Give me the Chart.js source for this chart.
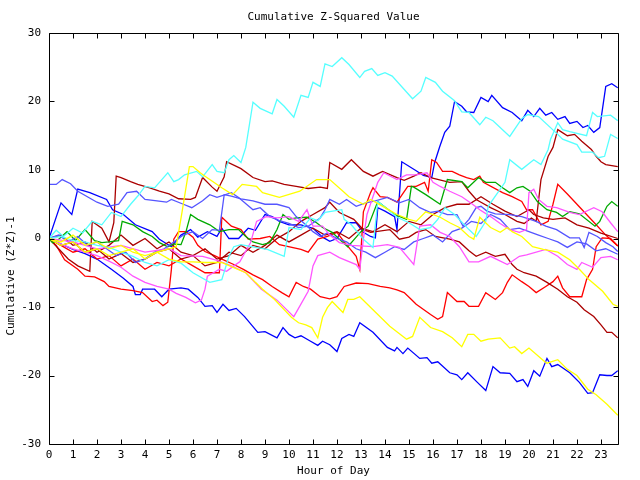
<!DOCTYPE html>
<html><head><meta charset="utf-8">
<script src="https://cdn.jsdelivr.net/npm/chart.js@4/dist/chart.umd.min.js"></script>
<style>html,body{margin:0;padding:0;background:#fff}canvas{display:block}</style>
</head><body>
<canvas id="c" width="640" height="480"></canvas>
<script>
// ---- data: [hour, cumulative value] vertices for each series ----
const blueTop = [[0,0],[0.5,5.2],[0.95,3.5],[1.2,7.2],[1.7,6.7],[2.4,5.7],[2.65,4.2],[3.1,3.5],[3.6,2],[4.3,1],[4.6,-0.1],[5.1,-1.2],[5.5,0.5],[5.9,1.3],[6.2,0.2],[6.6,1],[7.0,0.3],[7.2,1.5],[7.5,0],[7.9,0],[8.3,1.5],[8.6,1.2],[9.0,3.5],[9.3,3.2],[9.6,2.5],[10.0,2],[10.5,2],[11.0,1.5],[11.4,0.2],[11.7,-0.4],[12.0,0],[12.4,2.3],[12.8,2.3],[13.1,0.9],[13.4,0.3],[13.6,0.1],[13.7,4.5],[14.0,4],[14.4,3.2],[14.5,1.3],[14.7,11.2],[15.3,9.9],[15.6,9.2],[15.95,8.9],[16.07,11.1],[16.28,13.4],[16.49,15.5],[16.7,16.4],[16.9,20],[17.2,19.3],[17.4,18.5],[17.7,18.4],[18.0,20.6],[18.3,20],[18.45,20.9],[18.9,19.1],[19.3,18.4],[19.7,17.2],[19.95,18.7],[20.2,17.8],[20.45,19],[20.7,18],[20.95,18.4],[21.2,17.4],[21.5,17.8],[21.7,16.8],[22.0,17.1],[22.25,16.2],[22.45,16.5],[22.7,15.5],[22.95,16.2],[23.2,22.2],[23.45,22.6],[23.7,22]];
const blueLow = [[0,0],[0.5,-0.8],[1,-1.6],[1.5,-2.2],[2,-3],[2.6,-4.5],[3.1,-5.8],[3.5,-7],[3.6,-8.2],[3.8,-8.2],[3.9,-7.4],[4.4,-7.4],[4.7,-8.5],[5.0,-7.4],[5.5,-7.2],[5.8,-7.4],[6.2,-8.6],[6.5,-9.9],[6.8,-9.8],[7.0,-10.8],[7.25,-9.6],[7.5,-10.5],[7.8,-10.2],[8.15,-11.4],[8.7,-13.7],[9.0,-13.6],[9.5,-14.5],[9.75,-13],[10.0,-14],[10.25,-14.5],[10.5,-14.2],[10.9,-15],[11.2,-15.6],[11.4,-15],[11.7,-15.5],[12.0,-16.5],[12.2,-14.6],[12.5,-14],[12.7,-14.3],[12.95,-12.3],[13.5,-13.7],[14.1,-15.9],[14.4,-16.4],[14.5,-15.9],[14.75,-16.8],[14.95,-16],[15.45,-17.5],[15.75,-17.4],[15.95,-18.2],[16.2,-18],[16.7,-19.6],[17.0,-19.9],[17.2,-20.6],[17.45,-19.6],[17.85,-21],[18.2,-22.2],[18.5,-18.7],[18.8,-19.6],[19.2,-19.7],[19.5,-20.9],[19.75,-20.6],[19.95,-21.6],[20.2,-19.3],[20.45,-20.1],[20.75,-17.5],[20.95,-18.7],[21.2,-18.4],[21.7,-19.6],[22.1,-21],[22.45,-22.6],[22.65,-22.5],[22.95,-19.9],[23.25,-20],[23.45,-20],[23.7,-19.3]];
const slateA = [[0,7.9],[0.3,7.9],[0.55,8.6],[0.9,8],[1.2,6.9],[2.0,5.3],[2.45,4.7],[2.9,5],[3.25,6.7],[3.65,6.9],[4.0,5.7],[4.5,5.5],[4.9,5.3],[5.1,5.7],[5.6,5],[5.95,4.5],[6.4,5.5],[6.7,6.4],[7.0,6],[7.6,6.7],[7.9,6],[8.5,4.2],[8.8,4.5],[9.2,3.2],[9.6,2.6],[10.0,2.2],[10.4,1.6],[10.8,1.8],[11.3,3],[11.5,4.2],[11.7,5.7],[12.1,5],[12.4,5.7],[12.8,4.7],[13.2,5.2],[13.6,5.5],[14.1,6],[14.6,5.2],[15.0,5.7],[15.45,4.5],[15.9,3.8],[16.2,4],[16.6,3.5],[17.0,3.5],[17.25,1.8],[17.5,2.8],[17.8,4.5],[18.0,4.7],[18.25,4],[18.6,3.6],[19.2,3.5],[19.7,3.2],[20.3,2.5],[20.7,1.8],[21.15,1.3],[21.7,0.1],[22.1,0.1],[22.3,-1.3],[22.5,0.9],[22.85,0.3],[23.2,-0.6],[23.5,-1.2],[23.7,-1.9]];
const slateB = [[0,0],[0.4,0.5],[0.8,-0.5],[1.2,0.3],[1.6,-1],[2,-0.5],[2.4,-1.5],[2.8,-2.5],[3.2,-2],[3.6,-3.5],[4.0,-3],[4.4,-2],[4.8,-1.5],[5.2,-0.5],[5.6,0.5],[6.0,1],[6.4,0],[6.8,1.3],[7.1,1.2],[7.3,6.4],[7.6,6.2],[8.0,5.8],[8.5,5.5],[9.0,5],[9.5,5],[10.0,4.5],[10.3,3.2],[10.7,2],[11.0,1],[11.3,0.3],[11.6,0.8],[12.0,0],[12.4,-0.5],[12.8,-1.5],[13.2,-2],[13.6,-2.8],[14.0,-2],[14.4,-1.2],[14.8,-1.6],[15.2,-0.5],[15.6,0],[16.0,0.5],[16.4,-0.5],[16.8,1],[17.2,1.5],[17.6,2.5],[18.0,2.2],[18.4,3.5],[18.8,2.8],[19.2,1.3],[19.6,1.5],[20.0,1],[20.4,0.5],[20.8,0],[21.2,-0.5],[21.6,-1.3],[22.0,-0.5],[22.4,-0.8],[22.8,-1.8],[23.2,-1.5],[23.7,-2.3]];
const cyanTop = [[0,0],[0.3,1.2],[0.6,0.3],[1,1.5],[1.4,0.8],[1.8,2.5],[2.2,2],[2.6,3.8],[3.0,3.2],[3.4,5],[3.7,6.2],[4.0,7.6],[4.4,7.4],[4.7,8.6],[4.95,9.6],[5.2,8.3],[5.4,8.6],[5.65,9.3],[6.15,9.8],[6.4,9],[6.8,10.8],[7.0,9.8],[7.3,9.6],[7.5,11.5],[7.7,12.1],[8.0,11.1],[8.2,13.3],[8.5,19.9],[8.8,19],[9.3,18.2],[9.5,20.3],[9.8,19.3],[10.2,17.7],[10.5,20.9],[10.8,20.6],[11.0,22.8],[11.3,22.2],[11.5,25.5],[11.8,25.1],[12.2,26.4],[12.5,25.4],[12.95,23.5],[13.15,24.4],[13.45,24.8],[13.7,23.8],[14.0,24.2],[14.3,23.7],[15.15,20.4],[15.5,21.5],[15.7,23.5],[16.1,22.8],[16.4,21.5],[16.9,20.1],[17.2,18.5],[17.5,18.4],[17.95,16.6],[18.2,17.7],[18.5,17.2],[19.2,14.9],[19.7,17.5],[19.95,18.1],[20.4,17.8],[21.2,15.2],[21.4,14.5],[22.0,13.7],[22.2,12.6],[22.65,12.6],[22.9,11.8],[23.15,12],[23.4,15.2],[23.7,14.6]];
const cyanLow = [[0,0],[0.5,0.3],[1,-0.3],[1.5,-0.5],[2,-1],[2.5,-1.3],[3,-2],[3.5,-2.6],[4,-3.5],[4.5,-4],[5,-3.1],[5.5,-3.6],[6,-5],[6.7,-6.4],[7.2,-6],[7.5,-2.6],[7.7,-1.2],[8,-0.9],[8.6,-1.3],[9.1,-1.6],[9.8,-2.6],[10.0,1.6],[10.5,1.3],[10.9,3],[11.2,2.6],[11.5,3.8],[12.2,4.2],[12.3,2.8],[12.6,2],[13.1,-0.1],[13.5,-1.3],[13.7,5.4],[14.2,4],[14.5,3.1],[15.0,2.3],[15.45,1.3],[15.9,1.6],[16.2,2.8],[16.5,4.5],[16.9,3.5],[17.5,1.3],[17.8,0.3],[18.2,2.5],[18.3,4.7],[18.7,6.7],[19.0,8.2],[19.2,11.5],[19.7,10.1],[20.2,11.5],[20.5,10.8],[20.8,13],[20.9,14.5],[21.2,16.9],[21.4,15.9],[21.7,15.6],[22.4,15],[22.65,18.4],[22.85,17.8],[23.4,18],[23.7,17.2]];
const maroonA = [[0,0],[0.4,-1.5],[0.8,-3],[1.2,-4],[1.7,-4.8],[1.8,2.5],[2.2,1.5],[2.5,-0.5],[2.7,2.3],[2.8,9.1],[3.0,8.9],[3.4,8.3],[3.7,7.9],[4.2,7.4],[4.6,6.9],[5.0,6.5],[5.4,5.8],[5.9,5.7],[6.1,6],[6.4,8.9],[6.8,7.5],[7.0,6.9],[7.3,9],[7.4,11.2],[8.0,10.2],[8.5,8.9],[9.0,8.3],[9.3,8.4],[9.8,7.9],[10.3,7.6],[10.8,7.3],[11.3,7.5],[11.6,7.3],[11.7,11.1],[12.2,10.1],[12.6,11.5],[13.1,9.8],[13.5,9.1],[13.9,9.8],[14.5,8.9],[14.8,8.5],[15.2,9.1],[15.5,9.6],[15.9,8.9],[16.7,8.2],[17.2,8.3],[17.5,6.9],[17.8,5.7],[18.0,5.3],[18.4,4.5],[19.0,3.5],[19.5,2.5],[19.8,2.2],[20.1,3],[20.3,2.5],[20.5,8.6],[20.8,12],[21.0,13.3],[21.2,15.9],[21.6,15],[21.9,15.2],[22.2,14.2],[22.6,13],[22.8,12],[23.0,11.2],[23.2,10.8],[23.7,10.5]];
const maroonB = [[0,0],[0.5,-1],[1,-0.5],[1.5,-2],[2,-1.5],[2.5,-3],[3,-2.2],[3.5,-3.5],[4,-3],[4.5,-2],[5,-1.5],[5.5,-3],[6,-2.5],[6.5,-4],[7,-3.5],[7.5,-2],[8,-2.5],[8.5,-1],[9,-1.5],[9.5,0],[10,1],[10.5,2.5],[11,3.5],[11.5,4.5],[11.7,5.3],[12.1,3.8],[12.7,2.8],[13.1,1.3],[13.4,0.9],[14.2,1.3],[14.6,-0.1],[15.0,0.2],[15.3,0.9],[15.7,1.3],[16.1,0.3],[16.7,-0.1],[17.1,-0.5],[17.5,-1.8],[17.8,-2.6],[18.2,-2],[18.6,-2.6],[19.0,-2.3],[19.3,-3.8],[19.5,-4.5],[19.8,-5],[20.3,-5.5],[20.75,-6.4],[21.2,-7.4],[21.6,-8.5],[22.0,-9.3],[22.3,-10.4],[22.7,-11.4],[23.0,-12.6],[23.25,-13.7],[23.45,-13.7],[23.7,-14.5]];
const maroonC = [[0,0],[0.5,0.5],[1,-1],[1.5,-0.5],[2,-2],[2.5,-1],[3,0.5],[3.5,-1],[4,0],[4.5,-1.5],[5,-0.5],[5.5,-2],[6,-2.5],[6.5,-1.5],[7,-3],[7.5,-2.5],[8,-1],[8.5,-2],[9,-1],[9.5,0.5],[10,-0.5],[10.5,0.5],[11,1.5],[11.5,0.5],[12,1],[12.5,0],[13,1.5],[13.5,1],[14,2],[14.5,1],[15,2.5],[15.5,2],[16,3.5],[16.5,4.5],[17,5],[17.5,5],[18,6.1],[18.5,5],[19,4],[19.5,3.2],[20,4.2],[20.2,3.5],[20.6,3],[21,2.8],[21.5,3],[22,2],[22.5,1.5],[23,0.8],[23.7,0]];
const redA = [[0,0],[0.5,-1],[1,-2],[1.5,-1.5],[2,-3],[2.5,-2.5],[3,-4],[3.5,-3],[4,-4.5],[4.5,-3.5],[5,-4],[5.5,-3],[6,-4],[6.5,-5],[7.1,-5],[7.2,3.1],[7.6,1.8],[8.0,1.3],[8.3,-0.1],[8.8,0],[9.2,0.3],[9.6,-0.9],[10.5,-1.6],[10.8,-2],[11.2,-0.1],[11.6,0.3],[12.0,0.9],[12.3,-0.5],[12.8,-2.6],[12.95,-4.5],[13.1,3.9],[13.4,6.7],[13.5,7.4],[13.8,6.1],[14.1,6],[14.5,5.3],[14.95,7.6],[15.3,7.6],[15.65,8.2],[15.8,6.9],[15.95,11.5],[16.15,11.1],[16.4,9.8],[16.8,9.8],[17.1,9.3],[17.4,8.9],[17.7,8.6],[17.95,9.1],[18.1,8.2],[18.9,6.7],[19.3,6.1],[19.7,5.4],[19.9,4.2],[20.15,4.2],[20.5,2],[20.8,2.5],[21.0,5],[21.2,7.9],[21.6,6.5],[22.0,5],[22.4,3.5],[22.8,2],[23.2,0.5],[23.7,-1.1]];
const redB = [[0,0],[0.3,-1],[0.65,-3.1],[1.2,-4.5],[1.5,-5.5],[1.9,-5.6],[2.3,-6.3],[2.5,-7],[3.0,-7.4],[3.5,-7.6],[3.9,-7.9],[4.3,-9.2],[4.5,-9],[4.75,-9.8],[4.95,-9.3],[5.1,-4.5],[5.2,-0.1],[5.4,1],[5.7,1],[6.0,0.2],[6.2,-1],[6.5,-1.9],[6.9,-2.5],[7.2,-3],[7.7,-3.8],[8.1,-4.5],[8.5,-5.3],[8.9,-6],[9.3,-7],[9.7,-7.9],[10.0,-8.5],[10.3,-6.4],[10.6,-7],[10.9,-7.4],[11.3,-8.5],[11.7,-8.8],[12.0,-8.5],[12.3,-7],[12.8,-6.5],[13.3,-6.6],[13.8,-7],[14.2,-7.2],[14.5,-7.5],[14.8,-7.9],[15.1,-8.9],[15.3,-9.6],[15.9,-11.1],[16.2,-11.8],[16.4,-11.4],[16.6,-7.9],[17.0,-9.2],[17.3,-9.2],[17.5,-9.9],[17.9,-9.9],[18.2,-7.9],[18.6,-8.9],[18.9,-7.9],[19.1,-6.4],[19.3,-5.3],[19.7,-6.3],[20.0,-7],[20.3,-7.9],[20.7,-7],[21.0,-6.3],[21.2,-5.5],[21.4,-7.2],[21.7,-8.5],[22.2,-8.5],[22.4,-6],[22.65,-4.5],[22.8,-1.2],[23.05,0.1],[23.4,0],[23.7,-1.1]];
const yellowLow = [[0,0],[0.5,-0.5],[1,0.5],[1.5,-1],[2,-0.5],[2.5,-1.5],[3,-1],[3.5,-2],[4,-2.5],[4.5,-2],[5,-3],[5.5,-3.4],[6.0,-3.4],[6.5,-3.5],[7.2,-3.5],[7.6,-4.1],[8.2,-5],[8.6,-6.4],[8.9,-7.4],[9.4,-8.9],[10.1,-11.5],[10.4,-12.3],[10.7,-12.6],[10.95,-13],[11.2,-14.5],[11.4,-11.5],[11.6,-10.1],[11.8,-9.2],[12.25,-10.8],[12.45,-8.9],[12.7,-8.9],[12.95,-8.5],[13.5,-10.4],[14.2,-12.8],[14.9,-14.7],[15.15,-14.3],[15.45,-11.5],[15.9,-13],[16.4,-13.6],[16.8,-14.5],[17.2,-15.8],[17.45,-14],[17.7,-14],[18.0,-15],[18.3,-14.7],[18.8,-14.5],[19.2,-16],[19.4,-15.8],[19.7,-16.8],[20.0,-16],[20.6,-17.8],[20.75,-18.2],[21.2,-17.7],[21.6,-19.1],[22.0,-20],[22.45,-22],[22.8,-22.8],[23.25,-24.2],[23.7,-25.8]];
const yellowHigh = [[0,0],[0.5,-1],[1,-0.5],[1.5,-2],[2,-1.5],[2.5,-2.5],[3,-2],[3.5,-1.5],[4,-3],[4.5,-2],[5,-1.5],[5.3,-1.2],[5.55,4],[5.85,10.5],[6.0,10.5],[6.3,9.6],[6.5,9.1],[6.7,8.6],[7.2,7.4],[7.65,6.4],[8.05,7.9],[8.65,7.6],[8.9,6.7],[9.6,6],[10.45,6.9],[11.15,8.6],[11.4,8.6],[11.7,8.6],[12.25,6.9],[12.5,6.1],[13.1,5],[13.4,5.7],[14.0,4.5],[14.5,3.5],[15.0,2.8],[15.3,2.5],[15.7,3.9],[16.3,3.1],[16.7,2.3],[17.1,1.6],[17.5,0.3],[17.7,-0.1],[17.95,3.1],[18.4,1.6],[18.8,0.9],[19.1,1.6],[19.3,1],[19.7,0.3],[20.15,-1.2],[20.6,-1.6],[21.2,-2],[21.7,-3.1],[22.1,-4.5],[22.5,-6],[23.07,-7.7],[23.5,-9.6],[23.7,-9.9]];
const greenS = [[0,0],[0.15,-0.6],[0.35,-0.3],[0.75,1],[1.1,-0.3],[1.5,1.3],[1.9,-0.3],[2.2,-0.6],[2.5,-0.5],[2.9,-0.3],[3.05,2.5],[3.5,2],[3.9,1],[4.3,0.3],[4.6,-0.6],[4.95,-1.2],[5.2,-0.8],[5.5,-0.9],[5.7,0.9],[5.9,3.5],[6.2,2.8],[6.7,2],[7.1,1],[7.5,1.3],[7.9,1.3],[8.2,0.3],[8.5,-0.5],[8.9,-0.9],[9.2,-0.6],[9.5,1.3],[9.75,3.5],[10.0,2.8],[10.3,3],[10.75,3.1],[11.15,2.3],[11.4,1.6],[11.8,0.9],[12.1,-0.1],[12.45,-1.2],[12.8,0.2],[13.0,1],[13.3,1.8],[13.7,5.4],[14.4,3.5],[14.9,2.8],[15.1,7.6],[15.2,7.5],[15.7,6.4],[16.3,5],[16.6,8.6],[17.2,8.3],[17.45,7.4],[17.9,8.9],[18.2,8.2],[18.6,8.2],[18.9,7.4],[19.2,6.7],[19.5,7.4],[19.75,7.6],[20.05,6.9],[20.35,5.4],[20.75,4.2],[21.15,3.8],[21.4,3.2],[21.7,3.9],[22.1,3.6],[22.75,1.8],[22.95,2.5],[23.25,4.7],[23.45,5.4],[23.7,4.7]];
const pinkA = [[0,0],[0.5,-0.8],[1,-1.5],[1.5,-2],[2,-2.5],[2.5,-3.3],[3,-4.2],[3.5,-5.5],[4,-6.4],[4.5,-7],[5.0,-7.4],[5.3,-8],[5.7,-8.6],[6.1,-9.4],[6.35,-9],[6.5,-7.4],[6.6,-5.5],[6.85,-5],[7.1,-4.5],[7.4,-4.8],[7.7,-4],[7.95,-3.4],[8.4,-0.6],[8.65,2.5],[9.05,3.2],[9.5,3],[10.0,3.2],[10.4,2.5],[10.75,4.2],[11.0,1.8],[11.4,1.8],[11.7,0.5],[12.1,-0.6],[12.6,-1],[13.5,-1.2],[14.1,-0.9],[14.6,-1.3],[15.2,-3.8],[15.45,1.8],[15.9,2],[16.3,0.9],[16.7,0.3],[17.1,-1.2],[17.5,-3.4],[17.9,-3.4],[18.4,-2.6],[19.1,-3.8],[19.6,-2.6],[19.9,-2.4],[20.7,-1.6],[21.2,-2.6],[21.6,-3.8],[22.0,-4.5],[22.2,-3.5],[22.65,-4.2],[23.0,-2.8],[23.4,-2.6],[23.7,-3.1]];
const pinkB = [[0,0],[1,-0.5],[2,-1.5],[3,-1],[4,-2],[5,-1.5],[5.5,-2.5],[6.4,-2.6],[7.0,-3.2],[7.6,-4],[8.2,-5],[8.85,-7.4],[9.5,-9],[10.2,-11.4],[10.35,-10.5],[10.8,-7.7],[11.0,-4],[11.2,-2.5],[11.7,-2],[12.1,-2.8],[12.8,-3.8],[12.95,-4.5],[13.1,-0.1],[13.25,3.5],[13.7,8.2],[13.95,9.6],[14.5,8.6],[14.9,9.3],[15.3,9.3],[15.75,9.6],[16.0,8.2],[16.3,7.6],[16.7,6.9],[17.2,6.1],[17.65,5],[17.95,4.2],[18.4,3.2],[18.8,2.2],[19.2,1.3],[19.6,0.9],[19.9,1.3],[20.0,6.7],[20.2,7.2],[20.4,5.7],[20.75,4.7],[21.15,4.5],[21.7,3.8],[22.1,3.5],[22.7,4.5],[23.05,3.9],[23.4,2.3],[23.7,1]];

const xTicks = [0,1,2,3,4,5,6,7,8,9,10,11,12,13,14,15,16,17,18,19,20,21,22,23];
const yTicks = [-30,-20,-10,0,10,20,30];
const xMax = 23.71;

const seriesList = [
  [yellowLow,'#ffff00'],[yellowHigh,'#ffff00'],
  [cyanLow,'#55ffff'],[cyanTop,'#55ffff'],
  [pinkA,'#ff55ff'],[pinkB,'#ff55ff'],
  [slateA,'#5555ff'],[slateB,'#5555ff'],
  [greenS,'#00aa00'],
  [maroonA,'#aa0000'],[maroonB,'#aa0000'],[maroonC,'#aa0000'],
  [redA,'#ff0000'],[redB,'#ff0000'],
  [blueTop,'#0000ff'],[blueLow,'#0000ff']
];

const FONT = 'DejaVu Sans Mono';
Chart.defaults.font.family = FONT;
Chart.defaults.font.size = 11;
Chart.defaults.color = '#000';

const framePlugin = {
  id: 'frame',
  afterDatasetsDraw(chart) {
    const {ctx, chartArea: a, scales: {x, y}} = chart;
    ctx.save();
    ctx.strokeStyle = '#000';
    ctx.lineWidth = 1;
    ctx.beginPath();
    const L = Math.round(a.left) + 0.5, R = Math.round(a.right) + 0.5;
    const T = Math.round(a.top) + 0.5, B = Math.round(a.bottom) + 0.5;
    ctx.rect(L, T, R - L, B - T);
    xTicks.forEach(v => {
      const px = Math.round(x.getPixelForValue(v)) + 0.5;
      ctx.moveTo(px, T); ctx.lineTo(px, T + 5);
      ctx.moveTo(px, B); ctx.lineTo(px, B - 5);
    });
    yTicks.forEach(v => {
      const py = Math.round(y.getPixelForValue(v)) + 0.5;
      ctx.moveTo(L, py); ctx.lineTo(L + 5, py);
      ctx.moveTo(R, py); ctx.lineTo(R - 5, py);
    });
    ctx.stroke();
    ctx.fillStyle = '#000';
    ctx.font = '11px ' + FONT;
    ctx.textAlign = 'center';
    ctx.textBaseline = 'middle';
    const cx = (a.left + a.right) / 2;
    ctx.fillText('Cumulative Z-Squared Value', cx, 17);
    ctx.fillText('Hour of Day', cx, 471);
    ctx.translate(11, 276);
    ctx.rotate(-Math.PI / 2);
    ctx.fillText('Cumulative (Z*Z)-1', 0, 0);
    ctx.restore();
  }
};

new Chart(document.getElementById('c'), {
  type: 'line',
  data: {
    datasets: seriesList.map(([pts, col]) => ({
      data: pts,
      borderColor: col,
      borderWidth: 1.3,
      pointRadius: 0,
      tension: 0,
      fill: false
    }))
  },
  options: {
    responsive: false,
    animation: false,
    devicePixelRatio: 1,
    layout: {padding: {top: 33, right: 22, left: 0, bottom: 0}},
    plugins: {legend: {display: false}, title: {display: false}, tooltip: {enabled: false}},
    scales: {
      x: {
        type: 'linear', min: 0, max: xMax,
        afterFit: s => { s.height = 36; },
        afterBuildTicks: s => { s.ticks = xTicks.map(v => ({value: v})); },
        grid: {display: false, drawTicks: false},
        border: {display: false},
        ticks: {padding: 5, maxRotation: 0, autoSkip: false, includeBounds: false, callback: v => String(v)}
      },
      y: {
        type: 'linear', min: -30, max: 30,
        afterFit: s => { s.width = 49; },
        afterBuildTicks: s => { s.ticks = yTicks.map(v => ({value: v})); },
        grid: {display: false, drawTicks: false},
        border: {display: false},
        ticks: {padding: 8, callback: v => String(v)}
      }
    }
  },
  plugins: [framePlugin]
});
</script>
</body></html>
